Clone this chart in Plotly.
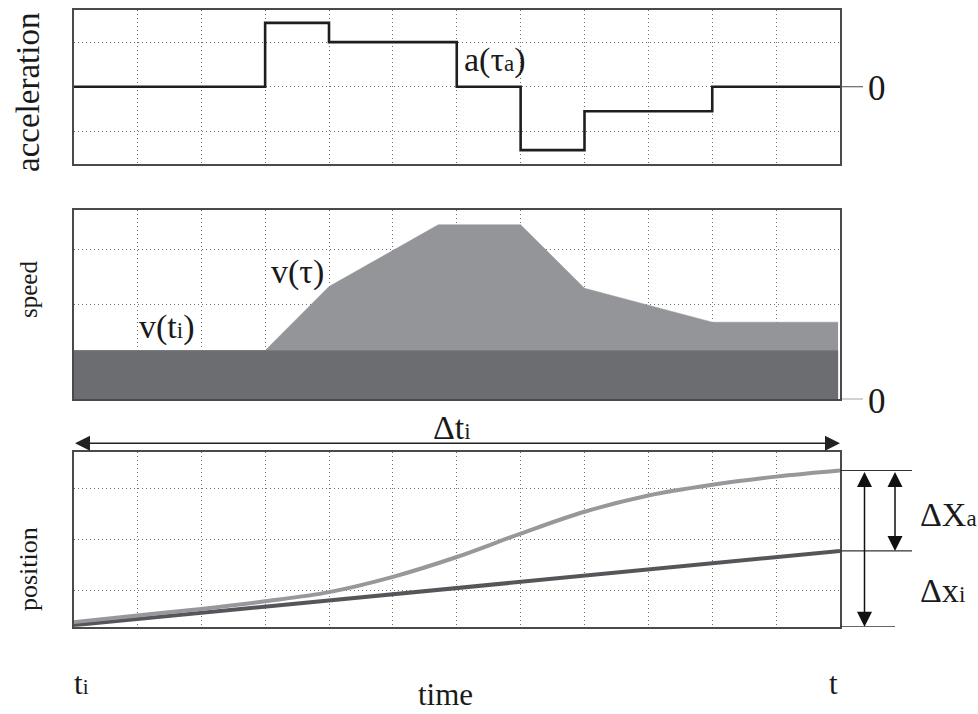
import plotly.graph_objects as go

W, H = 978, 714
FONT = "Liberation Serif, Times New Roman, Times, serif"

# ---------------- data ----------------
t_grid = list(range(1, 12))          # vertical grid columns (time units)

# acceleration: value held from each breakpoint until the next
acc_t = [0, 3, 4, 6, 7, 8, 10, 12]
acc_v = [0, 1.43, 1.0, 0, -1.42, -0.55, 0, 0]
acc_grid = [-1, 0, 1]

# speed
spd_t = [0, 3, 4, 5.71, 7, 8, 10, 11.97]
spd_v = [0.89, 0.89, 2.06, 3.19, 3.19, 2.03, 1.41, 1.41]
base_t = [0, 11.97]
base_v = [0.89, 0.89]               # v(ti)
spd_grid = [1.74, 2.74]

# position
pos_t = [0, 1, 2, 3, 4, 5, 6, 7, 8, 9, 10, 11, 12]
pos_a = [0.09, 0.22, 0.35, 0.50, 0.68, 0.98, 1.37, 1.83, 2.26, 2.58, 2.79, 2.95, 3.07]
pos_i_t = [0, 12]
pos_i = [0.03, 1.49]
pos_grid = [0.72, 1.72, 2.72]

# ---------------- layout helpers ----------------
def px_x(p):
    return p / W

def px_y(p):
    return 1 - p / H

XD = [px_x(73.5), px_x(840)]
D1 = [px_y(164), px_y(9.5)]
D2 = [px_y(399.3), px_y(210)]
D3 = [px_y(626.7), px_y(451.7)]

LIGHT = "#939599"
DARK = "#6c6d71"
FRAME = "#4a4a4a"
GRID = "#6e6e6e"

fig = go.Figure()

fig.add_trace(go.Scatter(x=acc_t, y=acc_v, mode="lines", line_shape="hv",
                         line=dict(color="#1e1e1e", width=2.6),
                         xaxis="x", yaxis="y", hoverinfo="skip"))

fig.add_trace(go.Scatter(x=spd_t, y=spd_v, mode="lines", fill="tozeroy",
                         fillcolor=LIGHT, line=dict(color=LIGHT, width=0.5),
                         xaxis="x2", yaxis="y2", hoverinfo="skip"))
fig.add_trace(go.Scatter(x=base_t, y=base_v, mode="lines", fill="tozeroy",
                         fillcolor=DARK, line=dict(color="#7a7b7f", width=1),
                         xaxis="x2", yaxis="y2", hoverinfo="skip"))

fig.add_trace(go.Scatter(x=pos_i_t, y=pos_i, mode="lines",
                         line=dict(color="#55565a", width=4),
                         xaxis="x3", yaxis="y3", hoverinfo="skip"))
fig.add_trace(go.Scatter(x=pos_t, y=pos_a, mode="lines", line_shape="spline",
                         line=dict(color="#97989b", width=4),
                         xaxis="x3", yaxis="y3", hoverinfo="skip"))

def xax(anchor):
    return dict(domain=XD, range=[0, 12], tickvals=t_grid, showticklabels=False,
                ticks="", showgrid=True, gridcolor=GRID, griddash="1px,3px",
                gridwidth=1, showline=True, mirror=True, linecolor=FRAME,
                linewidth=1.5, zeroline=False, anchor=anchor, fixedrange=True)

def yax(dom, rng, grid, anchor):
    return dict(domain=dom, range=rng, tickvals=grid, showticklabels=False,
                ticks="", showgrid=True, gridcolor=GRID, griddash="1px,3px",
                gridwidth=1, showline=True, mirror=True, linecolor=FRAME,
                linewidth=1.5, zeroline=False, anchor=anchor, fixedrange=True)

shapes = [
    # zero tick marks
    dict(type="line", xref="paper", yref="y", x0=XD[1], x1=px_x(863), y0=0, y1=0,
         line=dict(color=FRAME, width=1.2)),
    dict(type="line", xref="paper", yref="y2", x0=XD[1], x1=px_x(863), y0=0, y1=0,
         line=dict(color=FRAME, width=1.2)),
    # position extension lines
    dict(type="line", xref="paper", yref="y3", x0=XD[1], x1=px_x(912), y0=pos_a[-1], y1=pos_a[-1],
         line=dict(color="#333", width=1.2)),
    dict(type="line", xref="paper", yref="y3", x0=XD[1], x1=px_x(912), y0=pos_i[-1], y1=pos_i[-1],
         line=dict(color="#333", width=1.2)),
    dict(type="line", xref="paper", yref="y3", x0=XD[1], x1=px_x(895), y0=0, y1=0,
         line=dict(color="#333", width=1.2)),
]

def txt(x, y, text, size, xanchor="center", yanchor="middle", angle=0):
    return dict(xref="paper", yref="paper", x=px_x(x), y=px_y(y), text=text,
                showarrow=False, xanchor=xanchor, yanchor=yanchor, textangle=angle,
                font=dict(family=FONT, size=size, color="#1a1a1a"))

sub = lambda s, sz=23: f"<span style='font-size:{sz}px'>{s}</span>"

annotations = [
    txt(28, 93, "acceleration", 33, angle=-90),
    txt(28, 290, "speed", 25, angle=-90),
    txt(28, 569, "position", 26, angle=-90),
    txt(462, 60, "a(τ" + sub("a") + ")", 34, xanchor="left"),
    txt(297, 272, "v(τ)", 34),
    txt(137, 327, "v(t" + sub("i") + ")", 34, xanchor="left"),
    txt(877, 88, "0", 35),
    txt(877, 401, "0", 35),
    txt(452, 427, "Δt" + sub("i"), 34),
    txt(918, 514, "ΔX" + sub("a"), 34, xanchor="left"),
    txt(918, 590, "Δx" + sub("i"), 34, xanchor="left"),
    txt(72, 683, "t" + sub("i", 21), 31, xanchor="left"),
    txt(833, 683, "t", 31),
    txt(445, H, "time", 31, yanchor="bottom"),
    # Δt arrow
    dict(xref="x3", yref="paper", x=12, y=px_y(443.3), axref="x3", ayref="pixel",
         ax=0, ay=0, showarrow=True, arrowside="end+start", arrowhead=2,
         arrowsize=2, arrowwidth=1.5, arrowcolor="#222", text=""),
    # vertical double arrows
    dict(xref="paper", yref="y3", x=px_x(864.5), y=0, axref="pixel", ayref="y3",
         ax=0, ay=pos_a[-1], showarrow=True, arrowside="end+start", arrowhead=2,
         arrowsize=2, arrowwidth=1.5, arrowcolor="#111", text=""),
    dict(xref="paper", yref="y3", x=px_x(895), y=pos_i[-1], axref="pixel", ayref="y3",
         ax=0, ay=pos_a[-1], showarrow=True, arrowside="end+start", arrowhead=2,
         arrowsize=2, arrowwidth=1.5, arrowcolor="#111", text=""),
]

fig.update_layout(
    width=W, height=H, margin=dict(l=0, r=0, t=0, b=0),
    paper_bgcolor="white", plot_bgcolor="white", showlegend=False,
    xaxis=xax("y"), xaxis2=xax("y2"), xaxis3=xax("y3"),
    yaxis=yax(D1, [-1.73, 1.73], acc_grid, "x"),
    yaxis2=yax(D2, [0, 3.46], spd_grid, "x2"),
    yaxis3=yax(D3, [0, 3.44], pos_grid, "x3"),
    shapes=shapes, annotations=annotations,
)

fig.write_html("out.html", config={"displayModeBar": False},
               post_script="document.body.style.margin='0';document.body.style.overflow='hidden';")
